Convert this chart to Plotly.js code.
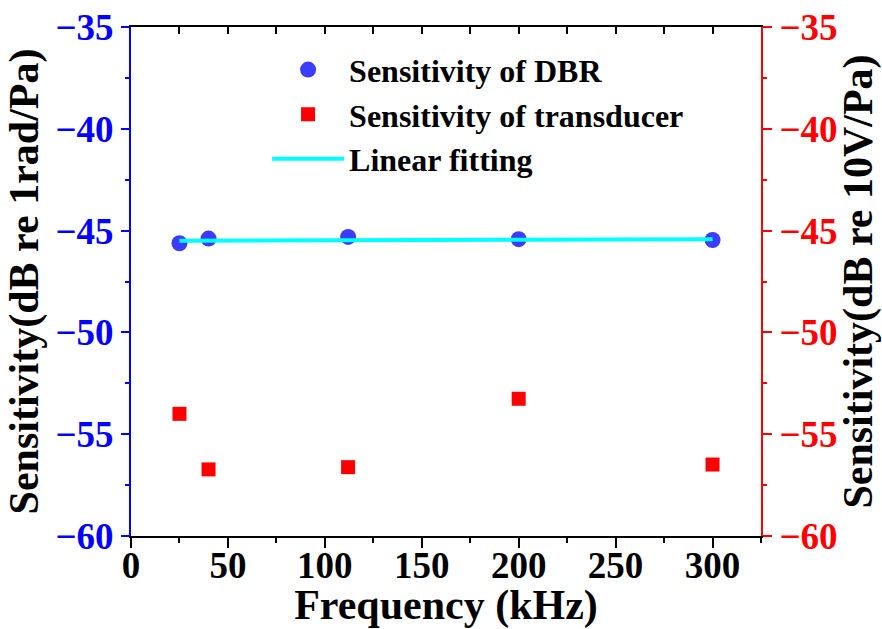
<!DOCTYPE html>
<html>
<head>
<meta charset="utf-8">
<script src="https://cdn.plot.ly/plotly-3.0.1.min.js"></script>
<style>html,body{margin:0;padding:0;background:#fff;}#chart{width:882px;height:629px;}</style>
</head>
<body>
<div id="chart"></div>
<script>
// Data
const freqKHz = [25, 40, 112, 200, 300];
const dbrSensitivity = [-45.62, -45.39, -45.31, -45.42, -45.46];
const transducerSensitivity = [-54.0, -56.73, -56.62, -53.26, -56.49];
const fitFreq = [25, 300];
const fitSensitivity = [-45.50, -45.42];

const xTickVals = [0, 50, 100, 150, 200, 250, 300];
const yTickVals = [-60, -55, -50, -45, -40, -35];

const FONT = "Liberation Serif, Times New Roman, serif";
const BLUE = "#0000ff";
const RED = "#ff0000";

const traces = [
  {
    x: freqKHz, y: dbrSensitivity, type: "scatter", mode: "markers",
    name: "Sensitivity of DBR",
    marker: {symbol: "circle", size: 16, color: "#3c3cff"},
    xaxis: "x", yaxis: "y"
  },
  {
    x: freqKHz, y: transducerSensitivity, type: "scatter", mode: "markers",
    name: "Sensitivity of transducer",
    marker: {symbol: "square", size: 14, color: RED},
    xaxis: "x", yaxis: "y2"
  },
  {
    x: fitFreq, y: fitSensitivity, type: "scatter", mode: "lines",
    name: "Linear fitting",
    line: {color: "#00ffff", width: 4},
    xaxis: "x", yaxis: "y"
  },
  {
    x: [], y: [], type: "scatter", mode: "markers", showlegend: false,
    xaxis: "x2", yaxis: "y", hoverinfo: "skip"
  }
];

const tickFont = (c) => ({family: FONT, size: 37, color: c, weight: "bold"});
const titleFont = {family: FONT, size: 42, color: "#000", weight: "bold"};

const layout = {
  width: 882, height: 629,
  margin: {l: 131, r: 121, t: 27, b: 93},
  paper_bgcolor: "#fff", plot_bgcolor: "#fff",
  showlegend: true,
  legend: {
    x: 0.216, y: 0.97, xanchor: "left", yanchor: "top",
    bgcolor: "rgba(0,0,0,0)", borderwidth: 0,
    font: {family: FONT, size: 32, color: "#000", weight: "bold"},
    itemwidth: 72, tracegroupgap: 0,
    traceorder: "normal"
  },
  xaxis: {
    range: [0, 325], tickvals: xTickVals, ticktext: xTickVals.map(String),
    ticks: "outside", ticklen: 10, tickwidth: 2, tickcolor: "#000",
    minor: {dtick: 25, ticks: "outside", ticklen: 5, tickwidth: 2, tickcolor: "#000"},
    showline: true, linecolor: "#000", linewidth: 2,
    showgrid: false, zeroline: false,
    tickfont: tickFont("#000"), ticklabelstandoff: -14,
    title: {text: "Frequency (kHz)", font: titleFont, standoff: 0},
    anchor: "y"
  },
  xaxis2: {
    overlaying: "x", side: "top", anchor: "y", matches: "x",
    range: [0, 325], dtick: 25, tick0: 0,
    ticks: "inside", ticklen: 7, tickwidth: 2, tickcolor: "#000",
    showticklabels: false, showline: true, linecolor: "#000", linewidth: 2,
    showgrid: false, zeroline: false
  },
  yaxis: {
    range: [-60, -35], tickvals: yTickVals, ticktext: yTickVals.map(v => "\u2212" + Math.abs(v)),
    ticks: "outside", ticklen: 8, tickwidth: 2, tickcolor: BLUE,
    minor: {dtick: 2.5, ticks: "outside", ticklen: 4, tickwidth: 2, tickcolor: BLUE},
    showline: true, linecolor: BLUE, linewidth: 2,
    showgrid: false, zeroline: false,
    tickfont: tickFont(BLUE),
    title: {text: "Sensitivity(dB re 1rad/Pa)", font: titleFont, standoff: 4}
  },
  yaxis2: {
    overlaying: "y", side: "right", anchor: "x",
    range: [-60, -35], tickvals: yTickVals, ticktext: yTickVals.map(v => "\u2212" + Math.abs(v)),
    ticks: "outside", ticklen: 9, tickwidth: 2, tickcolor: RED,
    minor: {dtick: 2.5, ticks: "outside", ticklen: 4, tickwidth: 2, tickcolor: RED},
    showline: true, linecolor: RED, linewidth: 2,
    showgrid: false, zeroline: false,
    tickfont: tickFont(RED),
    title: {text: "Sensitivity(dB re 10V/Pa)", font: titleFont, standoff: 4}
  }
};

Plotly.newPlot("chart", traces, layout, {displayModeBar: false, staticPlot: true});
</script>
</body>
</html>
